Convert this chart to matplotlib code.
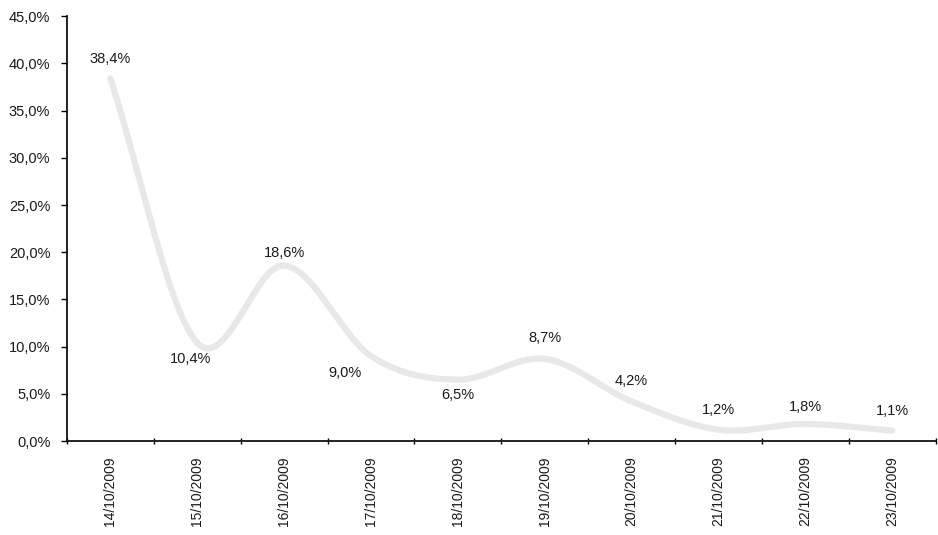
import numpy as np
import matplotlib.pyplot as plt
from matplotlib.ticker import FixedLocator, FuncFormatter

plt.rcParams['font.family'] = ['Liberation Sans', 'DejaVu Sans']

dates = ['14/10/2009', '15/10/2009', '16/10/2009', '17/10/2009', '18/10/2009',
         '19/10/2009', '20/10/2009', '21/10/2009', '22/10/2009', '23/10/2009']
share = [38.4, 10.4, 18.6, 9.0, 6.5, 8.7, 4.2, 1.2, 1.8, 1.1]

# label offsets in points (dx, dy)
offsets = [(0, 14), (-5, -12), (0, 9), (-19, -12), (0, -11),
           (0, 15), (0, 15), (0, 14), (0, 12), (0, 14)]


def catmull_rom(x, y, n=30):
    x = np.asarray(x, float)
    y = np.asarray(y, float)
    px = np.concatenate([[2 * x[0] - x[1]], x, [2 * x[-1] - x[-2]]])
    py = np.concatenate([[2 * y[0] - y[1]], y, [2 * y[-1] - y[-2]]])
    xs, ys = [], []
    t = np.linspace(0, 1, n)
    for i in range(1, len(px) - 2):
        for p, out in ((px, xs), (py, ys)):
            p0, p1, p2, p3 = p[i - 1], p[i], p[i + 1], p[i + 2]
            out.append(0.5 * ((2 * p1) + (-p0 + p2) * t
                              + (2 * p0 - 5 * p1 + 4 * p2 - p3) * t ** 2
                              + (-p0 + 3 * p1 - 3 * p2 + p3) * t ** 3))
    return np.concatenate(xs), np.concatenate(ys)


fig = plt.figure(figsize=(9.38, 5.35), dpi=100)
ax = fig.add_axes([0.0714, 0.1757, 0.926, 0.794])

x = np.arange(len(dates))
sx, sy = catmull_rom(x, share)
ax.plot(sx, sy, color='#e8e8e8', linewidth=4.5, solid_capstyle='round')

for xi, v, (dx, dy) in zip(x, share, offsets):
    ax.annotate(f'{v:.1f}%'.replace('.', ','), (xi, v), xytext=(dx, dy),
                textcoords='offset points', ha='center', va='center',
                fontsize=10.5, color='#1a1a1a')

ax.set_xlim(-0.5, len(dates) - 0.5)
ax.set_ylim(0, 45)
ax.set_yticks(np.arange(0, 46, 5))
ax.yaxis.set_major_formatter(FuncFormatter(lambda v, p: f'{v:.1f}%'.replace('.', ',')))
ax.set_xticks(x)
ax.set_xticklabels(dates, rotation=90, fontsize=10)
ax.xaxis.set_minor_locator(FixedLocator(np.arange(-0.5, len(dates), 1)))
ax.tick_params(axis='x', which='major', length=0, pad=11, colors='#1a1a1a')
ax.tick_params(axis='x', which='minor', length=4, direction='inout', width=1)
ax.tick_params(axis='y', labelsize=10.5, length=4, direction='out', width=1,
               pad=8, labelcolor='#1a1a1a')

for s in ('top', 'right'):
    ax.spines[s].set_visible(False)
for s in ('left', 'bottom'):
    ax.spines[s].set_linewidth(1.3)
    ax.spines[s].set_color('#111111')

fig.savefig('out.png', dpi=100)
